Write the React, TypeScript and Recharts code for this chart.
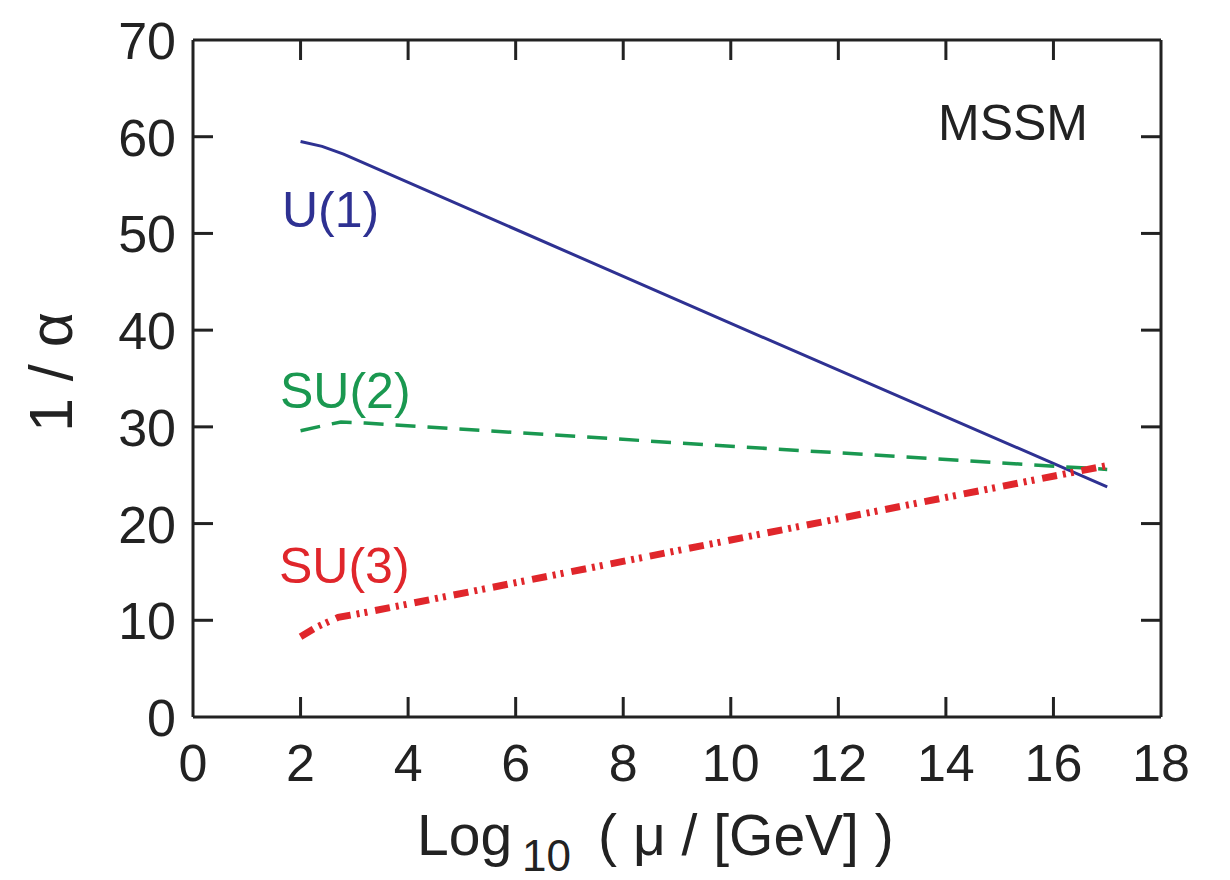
import React from 'react';
import { LineChart, Line, XAxis, YAxis, Customized } from 'recharts';

// running couplings in the MSSM
const u1Mu = [2, 2.4, 2.8, 10, 17];
const u1Inv = [59.5, 59.0, 58.2, 40.7, 23.8];

const su2Mu = [2, 2.4, 2.75, 3.2, 10, 17];
const su2Inv = [29.6, 30.1, 30.5, 30.4, 28.0, 25.6];

const su3Mu = [2, 2.3, 2.7, 3.2, 10, 17];
const su3Inv = [8.3, 9.3, 10.3, 10.8, 18.3, 26.0];

const xTicks = [0, 2, 4, 6, 8, 10, 12, 14, 16, 18];
const yTicks = [0, 10, 20, 30, 40, 50, 60, 70];

const toPoints = (xs: number[], ys: number[]) => xs.map((mu, i) => ({ mu, inv: ys[i] }));

const u1Data = toPoints(u1Mu, u1Inv);
const su2Data = toPoints(su2Mu, su2Inv);
const su3Data = toPoints(su3Mu, su3Inv);

const FONT = '"Liberation Sans", Arial, Helvetica, sans-serif';
const INK = '#222';
const BLUE = '#2e3192';
const GREEN = '#1a9850';
const RED = '#e0262b';
const TICK_LEN = 20;
const PLOT_LEFT = 193; // left axis width = left edge of the frame

const BottomTick = (props: any) => {
  const { x, y, payload } = props;
  const inner = payload.value !== 0 && payload.value !== 18;
  return (
    <g>
      {inner && <line x1={x} y1={y} x2={x} y2={y - TICK_LEN} stroke={INK} strokeWidth={3} />}
      <text x={x} y={y + 64} textAnchor="middle" fontSize={52} fontFamily={FONT} fill={INK}>
        {payload.value}
      </text>
    </g>
  );
};

const TopTick = (props: any) => {
  const { x, y, payload } = props;
  if (payload.value === 0 || payload.value === 18) return <g />;
  return <line x1={x} y1={y} x2={x} y2={y + TICK_LEN} stroke={INK} strokeWidth={3} />;
};

const LeftTick = (props: any) => {
  const { x, y, payload } = props;
  return (
    <text x={x - 17} y={y + 19} textAnchor="end" fontSize={52} fontFamily={FONT} fill={INK}>
      {payload.value}
    </text>
  );
};

// inward stubs on both vertical sides of the frame
const RightTick = (props: any) => {
  const { x, y, payload } = props;
  if (payload.value === 0 || payload.value === 70) return <g />;
  return (
    <g>
      <line x1={x} y1={y} x2={x - TICK_LEN} y2={y} stroke={INK} strokeWidth={3} />
      <line x1={PLOT_LEFT} y1={y} x2={PLOT_LEFT + TICK_LEN} y2={y} stroke={INK} strokeWidth={3} />
    </g>
  );
};

const Annotations = () => (
  <g fontFamily={FONT}>
    <text x={938} y={140} fontSize={50} fill={INK}>MSSM</text>
    <text x={282} y={227} fontSize={50} fill={BLUE}>U(1)</text>
    <text x={280} y={408} fontSize={50} fill={GREEN}>SU(2)</text>
    <text x={279} y={583} fontSize={50} fill={RED}>SU(3)</text>
    <text x={417} y={855} fontSize={57} fill={INK}>
      <tspan>Log</tspan>
      <tspan fontSize={44} dx={10} dy={16}>10</tspan>
      <tspan dx={27} dy={-16}>( μ / [GeV] )</tspan>
    </text>
    <text x={72} y={372} fontSize={61} fill={INK} textAnchor="middle" transform="rotate(-90 72 372)">
      1 / α
    </text>
  </g>
);

const App = () => {
  return (
    <div style={{ position: 'absolute', left: 0, top: 0, width: 1230, height: 880, background: '#fff' }}>
      <LineChart width={1230} height={880} margin={{ top: 39, right: 68, bottom: 0, left: 0 }}>
        <XAxis
          xAxisId="bottom"
          type="number"
          dataKey="mu"
          domain={[0, 18]}
          ticks={xTicks}
          interval={0}
          height={163}
          axisLine={{ stroke: INK, strokeWidth: 3 }}
          tickLine={false}
          tickSize={0}
          tickMargin={0}
          tick={<BottomTick />}
          allowDataOverflow
        />
        <XAxis
          xAxisId="top"
          orientation="top"
          type="number"
          dataKey="mu"
          domain={[0, 18]}
          ticks={xTicks}
          interval={0}
          height={1}
          axisLine={{ stroke: INK, strokeWidth: 3 }}
          tickLine={false}
          tickSize={0}
          tickMargin={0}
          tick={<TopTick />}
          allowDataOverflow
        />
        <YAxis
          yAxisId="left"
          type="number"
          domain={[0, 70]}
          ticks={yTicks}
          interval={0}
          width={PLOT_LEFT}
          axisLine={{ stroke: INK, strokeWidth: 3 }}
          tickLine={false}
          tickSize={0}
          tickMargin={0}
          tick={<LeftTick />}
          allowDataOverflow
        />
        <YAxis
          yAxisId="right"
          orientation="right"
          type="number"
          domain={[0, 70]}
          ticks={yTicks}
          interval={0}
          width={1}
          axisLine={{ stroke: INK, strokeWidth: 3 }}
          tickLine={false}
          tickSize={0}
          tickMargin={0}
          tick={<RightTick />}
          allowDataOverflow
        />
        <Line
          xAxisId="bottom"
          yAxisId="left"
          data={u1Data}
          dataKey="inv"
          type="linear"
          stroke={BLUE}
          strokeWidth={3}
          dot={false}
          isAnimationActive={false}
        />
        <Line
          xAxisId="bottom"
          yAxisId="left"
          data={su2Data}
          dataKey="inv"
          type="linear"
          stroke={GREEN}
          strokeWidth={3.5}
          strokeDasharray="20 12"
          dot={false}
          isAnimationActive={false}
        />
        <Line
          xAxisId="bottom"
          yAxisId="left"
          data={su3Data}
          dataKey="inv"
          type="linear"
          stroke={RED}
          strokeWidth={7}
          strokeDasharray="15 6 3 5 3 8"
          dot={false}
          isAnimationActive={false}
        />
        <Line
          xAxisId="top"
          yAxisId="right"
          data={u1Data}
          dataKey="inv"
          stroke="none"
          dot={false}
          legendType="none"
          isAnimationActive={false}
        />
        <Customized component={Annotations} />
      </LineChart>
    </div>
  );
};

export default App;
